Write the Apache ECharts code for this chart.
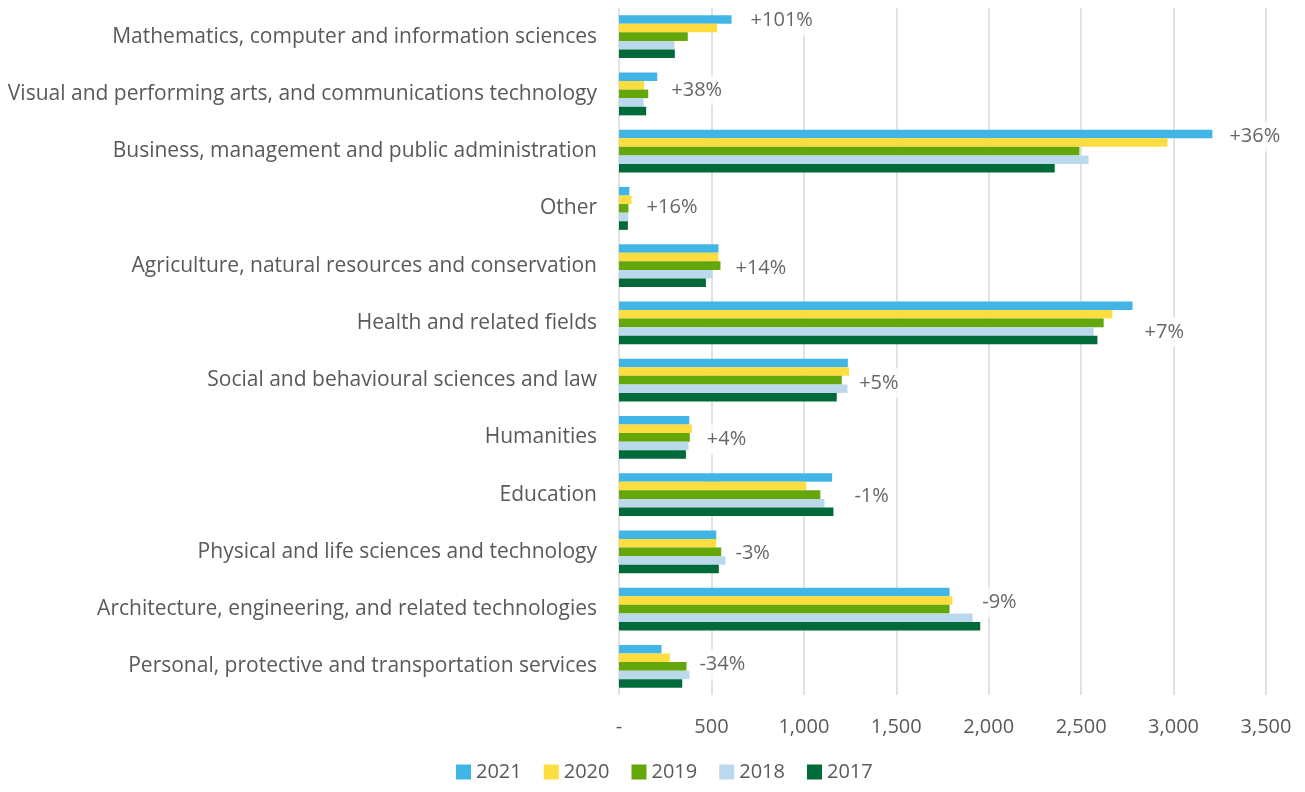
<!DOCTYPE html>
<html>
<head>
<meta charset="utf-8">
<title>Enrolments by field of study</title>
<script src="https://cdn.jsdelivr.net/npm/echarts@6/dist/echarts.min.js"></script>
<style>
  html, body { margin: 0; padding: 0; background: #fff; }
  #chart { width: 1305px; height: 792px; }
</style>
</head>
<body>
<div id="chart"></div>
<script>
  // categories, top to bottom
  var categories = [
    'Mathematics, computer and information sciences',
    'Visual and performing arts, and communications technology',
    'Business, management and public administration',
    'Other',
    'Agriculture, natural resources and conservation',
    'Health and related fields',
    'Social and behavioural sciences and law',
    'Humanities',
    'Education',
    'Physical and life sciences and technology',
    'Architecture, engineering, and related technologies',
    'Personal, protective and transportation services'
  ]

  var years = ['2021', '2020', '2019', '2018', '2017']

  var y2021 = [609, 207, 3210, 56, 538, 2778, 1238, 380, 1153, 526, 1788, 230]
  var y2020 = [531, 136, 2967, 68, 538, 2669, 1245, 394, 1013, 526, 1803, 275]
  var y2019 = [372, 158, 2491, 51, 549, 2622, 1205, 383, 1089, 553, 1788, 365]
  var y2018 = [300, 133, 2540, 50, 506, 2568, 1236, 376, 1112, 576, 1913, 381]
  var y2017 = [302, 147, 2357, 48, 470, 2588, 1178, 362, 1160, 540, 1954, 342]

  // change 2017 -> 2021
  var changeLabels = ['+101%', '+38%', '+36%', '+16%', '+14%', '+7%', '+5%', '+4%', '-1%', '-3%', '-9%', '-34%']

  var xTicks = [0, 500, 1000, 1500, 2000, 2500, 3000, 3500]

  var yearData = [y2021, y2020, y2019, y2018, y2017]
  var colors = ['#41b6e6', '#fddd3f', '#64a70b', '#bad9ec', '#006a39']
  var font = 'Open Sans'
  var textColor = '#595959'

  // manual nudges of the change labels (px), like the hand-placed ones in the original
  var labelNudge = [[16, -16], [11, -4], [14, -15], [12, -1], [12, 3], [9, 9],
                    [7, 3], [12, 2], [18, 2], [7, 1], [-1, -7], [7, -2]]

  var chart = echarts.init(document.getElementById('chart'))

  var series = yearData.map(function (arr, i) {
    return {
      name: years[i],
      type: 'bar',
      data: arr,
      barGap: 0,
      barCategoryGap: '25%',
      itemStyle: { color: colors[i] }
    }
  })

  series.push({
    name: 'change',
    type: 'scatter',
    symbolSize: 0,
    silent: true,
    z: 5,
    data: categories.map(function (c, i) {
      var maxVal = Math.max(y2021[i], y2020[i], y2019[i], y2018[i], y2017[i])
      return {
        value: [maxVal, i],
        label: { offset: labelNudge[i] }
      }
    }),
    label: {
      show: true,
      position: 'right',
      distance: 0,
      fontFamily: font,
      fontSize: 20,
      color: '#404040',
      backgroundColor: '#fff',
      padding: [5, 3, 5, 3],
      formatter: function (p) {
        return changeLabels[p.dataIndex]
      }
    }
  })

  chart.setOption({
    animation: false,
    grid: {
      left: 619,
      right: 39,
      top: 8,
      bottom: 97,
      containLabel: false
    },
    legend: {
      data: years,
      left: 451,
      bottom: 5,
      itemWidth: 15,
      itemHeight: 15,
      itemGap: 22,
      icon: 'rect',
      textStyle: {
        fontFamily: font,
        fontSize: 20,
        color: textColor
      }
    },
    xAxis: {
      type: 'value',
      min: xTicks[0],
      max: xTicks[xTicks.length - 1],
      interval: 500,
      axisLine: { show: false },
      axisTick: { show: false },
      splitLine: {
        show: true,
        lineStyle: { color: '#d9d9d9', width: 1.5 }
      },
      axisLabel: {
        margin: 22,
        fontFamily: font,
        fontSize: 20,
        color: textColor,
        formatter: function (value) {
          if (value === 0) {
            return '-'
          }
          return value.toLocaleString('en-US')
        }
      }
    },
    yAxis: {
      type: 'category',
      data: categories,
      inverse: true,
      axisLine: { show: false },
      axisTick: { show: false },
      axisLabel: {
        margin: 22,
        fontFamily: font,
        fontSize: 21,
        color: textColor,
        padding: [3, 0, 0, 0]
      }
    },
    series: series
  })
</script>
</body>
</html>
